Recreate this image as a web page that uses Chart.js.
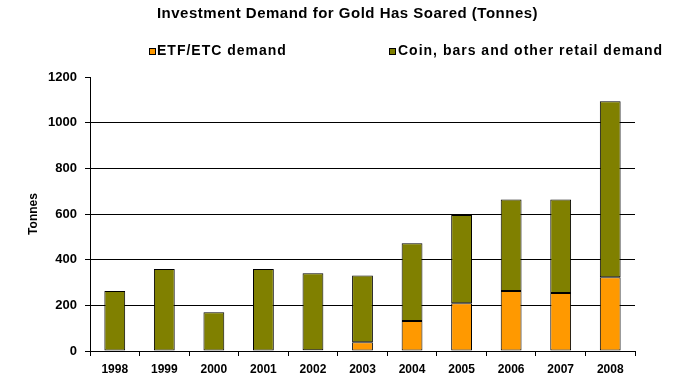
<!DOCTYPE html>
<html>
<head>
<meta charset="utf-8">
<script src="https://cdn.jsdelivr.net/npm/chart.js@4"></script>
<style>
  html, body { margin: 0; padding: 0; background: #fff; }
  #wrap { width: 677px; height: 384px; }
</style>
</head>
<body>
<div id="wrap"><canvas id="c" width="677" height="384"></canvas></div>
<script>
const chartTitle = 'Investment Demand for Gold Has Soared (Tonnes)';
const years = ['1998','1999','2000','2001','2002','2003','2004','2005','2006','2007','2008'];
const etfDemand = [0, 0, 0, 0, 3, 38, 131, 209, 263, 254, 323];
const retailDemand = [263, 359, 170, 359, 337, 293, 341, 387, 401, 410, 771];
const seriesNames = ['ETF/ETC demand', 'Coin, bars and other retail demand'];
const seriesColors = ['#FF9900', '#808000'];
const yTicks = [0, 200, 400, 600, 800, 1000, 1200];
const yAxisTitle = 'Tonnes';

const FONT = '"Liberation Sans", Arial, sans-serif';

const headerPlugin = {
  id: 'header',
  afterDraw(chart) {
    const ctx = chart.ctx;
    ctx.save();
    ctx.fillStyle = '#000';
    ctx.textBaseline = 'alphabetic';
    ctx.font = 'bold 15px ' + FONT;
    ctx.letterSpacing = '0.5px';
    ctx.textAlign = 'center';
    ctx.fillText(chartTitle, 347.5, 18);
    ctx.font = 'bold 14px ' + FONT;
    ctx.letterSpacing = '1px';
    ctx.textAlign = 'left';
    const items = [{x: 149, tx: 157}, {x: 389, tx: 398}];
    items.forEach((it, i) => {
      ctx.fillStyle = seriesColors[i];
      ctx.fillRect(it.x, 48, 7, 7);
      ctx.strokeStyle = '#000';
      ctx.lineWidth = 1;
      ctx.strokeRect(it.x + 0.5, 48.5, 6, 6);
      ctx.fillStyle = '#000';
      ctx.fillText(seriesNames[i], it.tx, 55);
    });
    ctx.restore();
  }
};

new Chart(document.getElementById('c'), {
  type: 'bar',
  data: {
    labels: years,
    datasets: [
      { label: seriesNames[0], data: etfDemand, backgroundColor: seriesColors[0], borderColor: '#000', borderWidth: 1, borderSkipped: false },
      { label: seriesNames[1], data: retailDemand, backgroundColor: seriesColors[1], borderColor: '#000', borderWidth: 1, borderSkipped: false }
    ]
  },
  options: {
    responsive: false,
    animation: false,
    devicePixelRatio: 1,
    layout: { padding: { top: 77, right: 42, bottom: 0, left: 0 } },
    datasets: { bar: { categoryPercentage: 1, barPercentage: 0.42 } },
    plugins: {
      legend: { display: false },
      title: { display: false },
      tooltip: { enabled: false }
    },
    scales: {
      x: {
        stacked: true,
        grid: { offset: true, drawOnChartArea: false, drawTicks: true, tickLength: 5, color: '#000', tickColor: '#000' },
        border: { display: true, color: '#000', width: 1 },
        ticks: { color: '#000', font: { family: FONT, size: 12, weight: 'bold' }, padding: 6, maxRotation: 0 },
        afterFit(scale) { scale.height = 33; }
      },
      y: {
        stacked: true,
        min: 0,
        max: 1200,
        afterBuildTicks(scale) { scale.ticks = yTicks.map(v => ({ value: v })); },
        grid: {
          color: c => (c.tick && c.tick.value === 1200) ? 'rgba(0,0,0,0)' : '#000',
          tickColor: '#000',
          tickLength: 5,
          lineWidth: 1
        },
        border: { display: true, color: '#000', width: 1 },
        ticks: { color: '#000', font: { family: FONT, size: 13, weight: 'bold' }, padding: 8, callback: v => String(v) },
        title: { display: true, text: yAxisTitle, color: '#000', font: { family: FONT, size: 12, weight: 'bold' }, padding: { top: 26, bottom: 0 } },
        afterFit(scale) { scale.width = 90; }
      }
    }
  },
  plugins: [headerPlugin]
});
</script>
</body>
</html>
